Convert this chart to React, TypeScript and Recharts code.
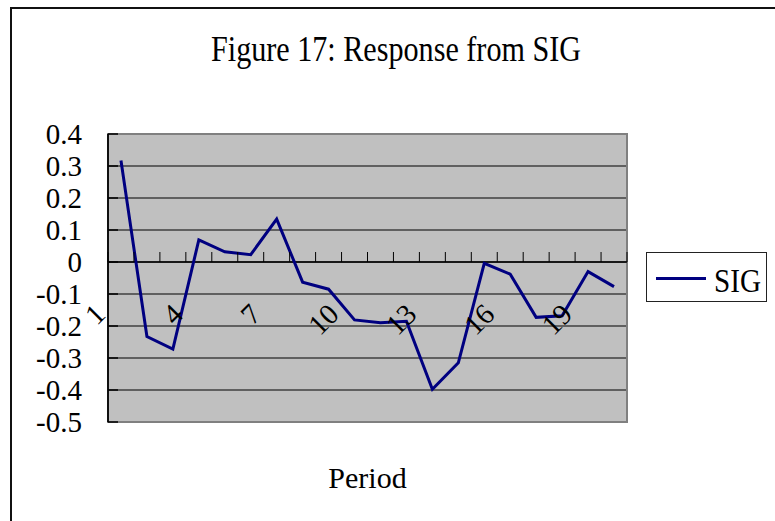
import React from 'react';
import {
  LineChart,
  Line,
  XAxis,
  YAxis,
  CartesianGrid,
  ReferenceLine,
  ReferenceArea,
  Legend,
} from 'recharts';

const periods = ['1', '2', '3', '4', '5', '6', '7', '8', '9', '10', '11', '12', '13', '14', '15', '16', '17', '18', '19', '20'];
const sigValues = [0.317, -0.233, -0.272, 0.069, 0.032, 0.023, 0.134, -0.063, -0.085, -0.181, -0.19, -0.185, -0.398, -0.315, -0.004, -0.038, -0.173, -0.168, -0.03, -0.077];
const yTicks = [-0.5, -0.4, -0.3, -0.2, -0.1, 0, 0.1, 0.2, 0.3, 0.4];
const Y_MIN = -0.5;
const Y_MAX = 0.4;

const data = periods.map((p, i) => ({ period: p, SIG: sigValues[i] }));

const W = 775;
const H = 521;
const PLOT_LEFT = 108;
const PLOT_TOP = 134;
const PLOT_RIGHT = 627;
const PLOT_BOTTOM = 422;
const Y_AXIS_W = 60;
const X_AXIS_H = 1;
const zeroY = PLOT_TOP + ((PLOT_BOTTOM - PLOT_TOP) * (Y_MAX - 0)) / (Y_MAX - Y_MIN);
const bandW = (PLOT_RIGHT - PLOT_LEFT) / periods.length;

const FONT = '"Liberation Serif", "Times New Roman", serif';
const NAVY = '#000080';

const XTick = (props: any) => {
  const { x, index, payload } = props;
  const last = index === periods.length - 1;
  return (
    <g>
      <line x1={x - bandW / 2} x2={x - bandW / 2} y1={zeroY - 10} y2={zeroY} stroke="#000" strokeWidth={1} />
      {last && <line x1={x + bandW / 2} x2={x + bandW / 2} y1={zeroY - 10} y2={zeroY} stroke="#000" strokeWidth={1} />}
      {index % 3 === 0 && (
        <text
          transform={`translate(${x - 14},${zeroY + 54}) rotate(-45)`}
          textAnchor="end"
          fontSize={29}
          fontFamily={FONT}
          fill="#000"
        >
          {payload.value}
        </text>
      )}
    </g>
  );
};

const YTick = (props: any) => {
  const { y, payload } = props;
  return (
    <g>
      <line x1={PLOT_LEFT} x2={PLOT_LEFT + 10} y1={y} y2={y} stroke="#000" strokeWidth={1.5} />
      <text x={PLOT_LEFT - 26} y={y + 9.5} textAnchor="end" fontSize={29} fontFamily={FONT} fill="#000">
        {String(payload.value)}
      </text>
    </g>
  );
};

const PeriodLabel = (props: any) => {
  const vb = props.viewBox || {};
  return (
    <text x={vb.x + vb.width / 2} y={vb.y + 66} textAnchor="middle" fontSize={30} fontFamily={FONT} fill="#000">
      Period
    </text>
  );
};

const LegendContent = () => (
  <svg width={121} height={50} style={{ display: 'block' }}>
    <rect x={0.5} y={0.5} width={120} height={49} fill="#fff" stroke="#222" strokeWidth={1} />
    <line x1={10} x2={60} y1={26.5} y2={26.5} stroke={NAVY} strokeWidth={3} />
    <text x={68} y={40} fontSize={33} fontFamily={FONT} fill="#000" textLength={47} lengthAdjust="spacingAndGlyphs">
      SIG
    </text>
  </svg>
);

export default function App() {
  return (
    <div
      style={{
        position: 'absolute',
        left: 0,
        top: 0,
        width: W,
        height: H,
        overflow: 'hidden',
        background: '#fff',
      }}
    >
      <div
        style={{
          position: 'absolute',
          left: 10,
          top: 7,
          width: 900,
          height: 700,
          borderLeft: '2px solid #111',
          borderTop: '2px solid #111',
        }}
      />
      <svg width={W} height={H} style={{ position: 'absolute', left: 0, top: 0 }}>
        <text
          x={396}
          y={61}
          textAnchor="middle"
          fontSize={35}
          fontFamily={FONT}
          fill="#000"
          textLength={370}
          lengthAdjust="spacingAndGlyphs"
        >
          Figure 17: Response from SIG
        </text>
      </svg>
      <div style={{ position: 'absolute', left: 0, top: 0 }}>
        <LineChart
          width={W}
          height={H}
          data={data}
          margin={{
            top: PLOT_TOP,
            right: W - PLOT_RIGHT,
            bottom: H - PLOT_BOTTOM - X_AXIS_H,
            left: PLOT_LEFT - Y_AXIS_W,
          }}
        >
          <CartesianGrid vertical={false} horizontal={true} stroke="#000" strokeWidth={1} fill="#C0C0C0" fillOpacity={1} />
          <ReferenceArea y1={Y_MIN} y2={Y_MAX} fill="none" stroke="#808080" strokeWidth={2} ifOverflow="extendDomain" />
          <XAxis
            dataKey="period"
            scale="band"
            height={X_AXIS_H}
            axisLine={false}
            tickLine={false}
            interval={0}
            tick={<XTick />}
            label={<PeriodLabel />}
          />
          <YAxis
            width={Y_AXIS_W}
            domain={[Y_MIN, Y_MAX]}
            ticks={yTicks}
            interval={0}
            tickSize={0}
            tickMargin={0}
            tickLine={false}
            axisLine={{ stroke: '#111', strokeWidth: 2 }}
            tick={<YTick />}
            allowDataOverflow={true}
          />
          <ReferenceLine y={0} stroke="#000" strokeWidth={1.5} />
          <Legend
            layout="horizontal"
            align="center"
            verticalAlign="middle"
            content={<LegendContent />}
            wrapperStyle={{ position: 'absolute', left: 646, top: 252, width: 121, height: 50 }}
          />
          <Line
            type="linear"
            dataKey="SIG"
            stroke={NAVY}
            strokeWidth={3}
            dot={false}
            activeDot={false}
            isAnimationActive={false}
          />
        </LineChart>
      </div>
    </div>
  );
}
